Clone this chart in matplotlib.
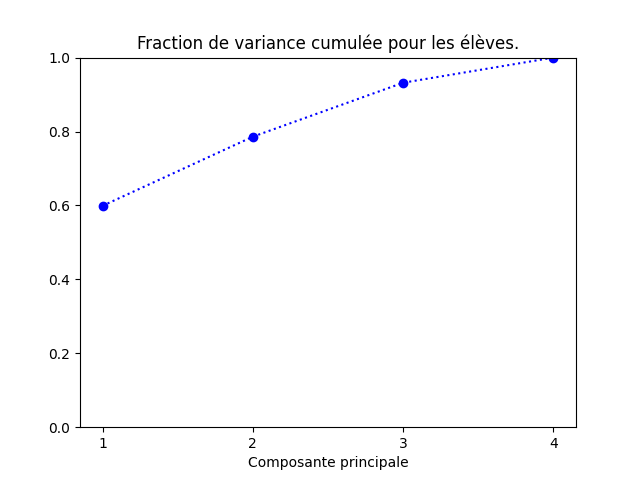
import numpy as np
import matplotlib
matplotlib.use("Agg")
import matplotlib.pyplot as plt

composantes = [1, 2, 3, 4]
variance_cumulee = [0.599, 0.786, 0.932, 1.0]

fig = plt.figure(figsize=(6.4, 4.8), dpi=100)
plt.plot(composantes, variance_cumulee, 'bo:')
plt.ylim(0, 1)
plt.xticks(composantes)
plt.xlabel("Composante principale")
plt.title("Fraction de variance cumulée pour les élèves.")
plt.savefig("out.png")
